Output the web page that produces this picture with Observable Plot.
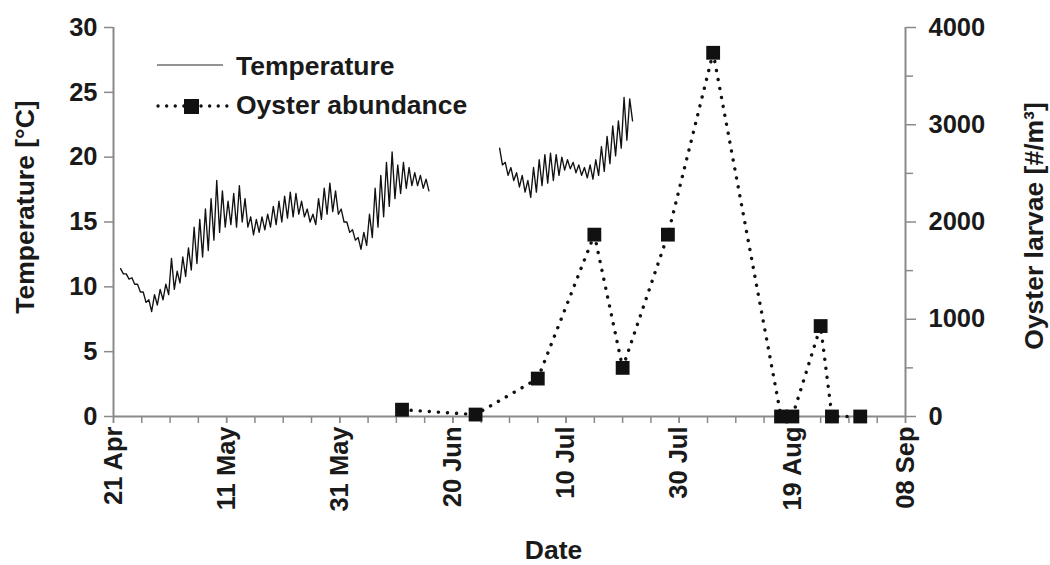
<!DOCTYPE html>
<html>
<head>
<meta charset="utf-8">
<script src="https://cdn.jsdelivr.net/npm/d3@7"></script>
<script src="https://cdn.jsdelivr.net/npm/@observablehq/plot@0.6"></script>
<style>
  html, body { margin: 0; padding: 0; background: #fff; }
  #chart { position: relative; width: 1050px; height: 565px; font-family: "Liberation Sans", Arial, sans-serif; }
  #legend { position: absolute; left: 0; top: 0; pointer-events: none; }
  #legend text { font-family: "Liberation Sans", Arial, sans-serif; font-weight: bold; font-size: 26.5px; fill: #1a1a1a; }
</style>
</head>
<body>
<div id="chart">
  <svg id="legend" width="1050" height="565">
    <line x1="157" x2="223" y1="65" y2="65" stroke="#6f6f6f" stroke-width="1.6"></line>
    <text x="236" y="75">Temperature</text>
    <line x1="158" x2="228" y1="106" y2="106" stroke="#111" stroke-width="3.3" stroke-dasharray="0.1 8.5" stroke-linecap="round"></line>
    <rect x="184" y="99" width="15" height="15" fill="#111"></rect>
    <text x="236" y="114">Oyster abundance</text>
  </svg>
</div>
<script>
// ---- Axis extents and tick labels ----
const dateStart = "2013-04-21";
const dateEnd = "2013-09-08";
const dateTickLabels = ["21 Apr", "11 May", "31 May", "20 Jun", "10 Jul", "30 Jul", "19 Aug", "08 Sep"];
const tempTicks = [0, 5, 10, 15, 20, 25, 30];
const larvaeTicks = [0, 1000, 2000, 3000, 4000];
const larvaeMinorTicks = [500, 1500, 2500, 3500];
const tempMax = 30;
const larvaeMax = 4000;

// ---- Water temperature logger (°C): daily high and low, two deployments ----
const tempDeploy1Start = "2013-04-22";
const tempDeploy1High = [11.4, 11.0, 10.7, 10.2, 9.6, 9.0, 9.4, 9.8, 10.2, 12.2,
  11.2, 12.3, 13.0, 14.6, 15.2, 16.0, 16.8, 18.2, 17.4, 16.6,
  17.2, 17.8, 16.8, 15.4, 15.2, 15.4, 15.6, 16.2, 16.6, 17.0,
  17.3, 17.2, 16.6, 16.0, 15.6, 16.8, 17.6, 18.0, 17.4, 16.0,
  15.0, 14.4, 13.8, 14.2, 15.6, 17.6, 18.6, 19.6, 20.4, 19.4,
  19.6, 19.2, 18.8, 18.6, 18.3];
const tempDeploy1Low = [11.0, 10.6, 10.2, 9.6, 8.8, 8.1, 8.6, 9.0, 9.4, 9.8,
  10.3, 10.8, 11.3, 11.8, 12.3, 12.8, 13.6, 14.2, 14.6, 14.8,
  14.6, 15.0, 14.6, 14.0, 14.2, 14.4, 14.6, 14.8, 15.0, 15.3,
  15.4, 15.6, 15.4, 15.0, 14.8, 15.2, 15.6, 15.8, 15.6, 15.0,
  14.2, 13.6, 12.9, 13.2, 13.8, 14.6, 15.4, 16.2, 16.8, 17.2,
  17.6, 17.8, 17.8, 17.6, 17.4];

const tempDeploy2Start = "2013-06-28";
const tempDeploy2High = [20.7, 19.6, 19.2, 18.8, 18.6, 18.2, 19.2, 19.8, 20.2, 20.3,
  20.2, 20.0, 19.8, 19.6, 19.4, 19.2, 19.4, 19.8, 20.8, 21.6,
  22.4, 22.8, 24.6, 24.5];
const tempDeploy2Low = [19.4, 18.6, 18.2, 17.7, 17.3, 16.9, 17.3, 17.8, 18.0, 18.2,
  18.6, 19.0, 19.1, 18.8, 18.6, 18.4, 18.3, 18.6, 18.9, 19.5,
  20.1, 20.7, 21.3, 22.8];

// ---- Oyster larvae abundance (#/m³) by sampling date ----
const larvaeDates = ["2013-06-11", "2013-06-24", "2013-07-05", "2013-07-15", "2013-07-20", "2013-07-28",
  "2013-08-05", "2013-08-17", "2013-08-19", "2013-08-24", "2013-08-26", "2013-08-31"];
const larvaeValues = [70, 20, 390, 1870, 500, 1870, 3740, 0, 0, 930, 0, 0];

// ---- Build tables ----
const parse = d3.utcParse("%Y-%m-%d");
const hourOffset = (date, h) => d3.utcHour.offset(date, h);

function deploymentRows(start, highs, lows, seg) {
  const day0 = parse(start);
  const rows = [];
  highs.forEach((hi, i) => {
    const day = d3.utcDay.offset(day0, i);
    rows.push({date: hourOffset(day, 6), temp: hi, seg});
    rows.push({date: hourOffset(day, 18), temp: lows[i], seg});
  });
  return rows;
}
const tempRows = [
  ...deploymentRows(tempDeploy1Start, tempDeploy1High, tempDeploy1Low, "deploy1"),
  ...deploymentRows(tempDeploy2Start, tempDeploy2High, tempDeploy2Low, "deploy2")
];
const larvaeRows = larvaeDates.map((d, i) => ({date: parse(d), larvae: larvaeValues[i]}));

// larvae share the temperature frame: 0–4000 maps onto 0–30
const larvaeToY = v => v * tempMax / larvaeMax;

const x0 = parse(dateStart), x1 = parse(dateEnd);
const majorDates = d3.utcDay.range(x0, d3.utcDay.offset(x1, 1), 20);
const minorDates = d3.utcDay.range(x0, d3.utcDay.offset(x1, 1), 5);
const labelFor = new Map(majorDates.map((d, i) => [+d, dateTickLabels[i]]));

const axisGrey = "#8a8a8a";
const ink = "#1a1a1a";

const chart = Plot.plot({
  width: 1050,
  height: 565,
  marginLeft: 113,
  marginRight: 145,
  marginTop: 27,
  marginBottom: 149,
  style: {
    fontFamily: "'Liberation Sans', Arial, sans-serif",
    fontSize: "25.5px",
    fontWeight: "bold",
    color: ink,
    background: "transparent",
    overflow: "visible"
  },
  x: {type: "utc", domain: [x0, x1], label: null},
  y: {domain: [0, tempMax], label: null},
  marks: [
    // frame lines: bottom, left, right
    Plot.ruleY([0], {stroke: axisGrey, strokeWidth: 2}),
    Plot.ruleX([x0, x1], {stroke: axisGrey, strokeWidth: 2}),

    // date axis
    Plot.axisX(minorDates, {tickSize: 7, tickFormat: () => "", stroke: axisGrey, strokeWidth: 1.5, label: null}),
    Plot.axisX(majorDates, {
      tickSize: 7, tickPadding: 3, tickRotate: -90, stroke: axisGrey, strokeWidth: 1.5,
      tickFormat: d => labelFor.get(+d), fill: ink, label: null
    }),

    // temperature axis (left)
    Plot.axisY(tempTicks, {anchor: "left", tickSize: 9, tickPadding: 7, stroke: axisGrey, strokeWidth: 1.5, fill: ink, label: null}),

    // larvae axis (right)
    Plot.axisY(larvaeMinorTicks.map(larvaeToY), {anchor: "right", tickSize: 7, tickFormat: () => "", stroke: axisGrey, strokeWidth: 1.5, label: null}),
    Plot.axisY(larvaeTicks.map(larvaeToY), {
      anchor: "right", tickSize: 10, tickPadding: 13, stroke: axisGrey, strokeWidth: 1.5, fill: ink, label: null,
      tickFormat: d => String(Math.round(d * larvaeMax / tempMax))
    }),

    // temperature record
    Plot.line(tempRows, {x: "date", y: "temp", z: "seg", stroke: "#111", strokeWidth: 1.35}),

    // larvae abundance
    Plot.line(larvaeRows, {
      x: "date", y: d => larvaeToY(d.larvae), stroke: "#111", strokeWidth: 3.4,
      strokeDasharray: "0.1 9", strokeLinecap: "round"
    }),
    Plot.dot(larvaeRows, {x: "date", y: d => larvaeToY(d.larvae), symbol: "square", r: 7.8, fill: "#111", stroke: null}),

    // axis titles
    Plot.text(["Temperature [°C]"], {
      frameAnchor: "left", dx: -80, dy: -15, rotate: -90, textAnchor: "middle",
      lineAnchor: "bottom", fontSize: 26.5, fill: ink
    }),
    Plot.text(["Oyster larvae [#/m³]"], {
      frameAnchor: "right", dx: 137, dy: 4, rotate: -90, textAnchor: "middle",
      lineAnchor: "bottom", fontSize: 26.5, fill: ink
    }),
    Plot.text(["Date"], {
      frameAnchor: "bottom", dx: 44, dy: 142, textAnchor: "middle",
      lineAnchor: "bottom", fontSize: 26.5, fill: ink
    })
  ]
});

const host = document.getElementById("chart");
host.insertBefore(chart, host.firstChild);
</script>
</body>
</html>
